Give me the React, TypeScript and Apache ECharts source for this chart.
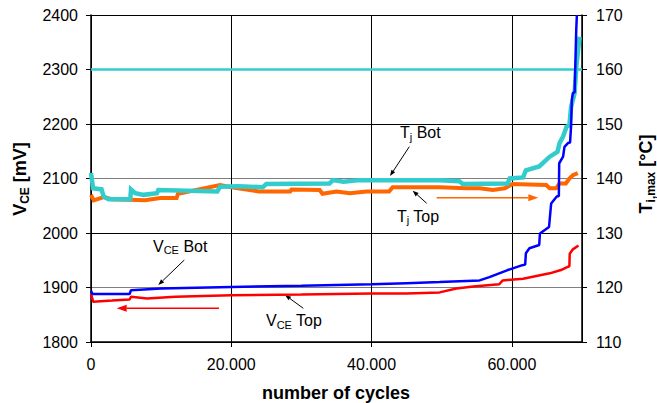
import React, { useEffect, useRef } from 'react';
import * as echarts from 'echarts';

// Collector-emitter voltage of the bottom switch [cycles, mV]
const vceBot: [number, number][] = [
  [0, 1894], [200, 1888], [5500, 1888], [5700, 1895], [10000, 1898], [20000, 1901],
  [30000, 1903], [40000, 1906], [45000, 1908], [49700, 1910], [55400, 1913],
  [56800, 1919], [59400, 1932], [61500, 1941], [61900, 1942], [62000, 1963],
  [62500, 1972], [63900, 1978], [64000, 1999], [65300, 2011], [65600, 2054],
  [66400, 2067], [66700, 2068], [66750, 2128], [67300, 2140], [67500, 2158],
  [68000, 2165], [68300, 2166], [68450, 2198], [68550, 2244], [68700, 2257],
  [68950, 2258], [69180, 2373], [69270, 2400],
];

// Collector-emitter voltage of the top switch [cycles, mV]
const vceTop: [number, number][] = [
  [0, 1889], [300, 1874], [3000, 1876], [5500, 1878], [5700, 1883], [8000, 1880],
  [12000, 1883], [20000, 1886], [30000, 1887], [40000, 1889], [45000, 1889],
  [49700, 1891], [52100, 1898], [54500, 1902], [58200, 1906], [58700, 1913],
  [61600, 1916], [65400, 1926], [67000, 1932], [67800, 1937], [68200, 1939],
  [68250, 1962], [68700, 1970], [69500, 1977],
];

// Maximum junction temperature, bottom switch [cycles, °C]
const tjBot: [number, number][] = [
  [0, 141], [300, 138.2], [1500, 138], [1800, 136.7], [2500, 136.2], [5600, 136.2],
  [5700, 138], [6300, 137.3], [7500, 137], [9400, 137.3], [9600, 137.9],
  [18000, 137.6], [18400, 138.5], [21000, 138.6], [24500, 138.4], [25000, 139],
  [34000, 139.1], [34500, 139.7], [36000, 139.4], [38300, 139.7], [49700, 139.7],
  [52500, 139.5], [53000, 139], [59400, 139.1], [59700, 140], [61600, 140.2],
  [62000, 141.5], [63900, 142.2], [65400, 144], [66500, 144.9], [66800, 146.5],
  [67300, 147.7], [67800, 149.5], [68200, 149.8], [68450, 153.2], [68700, 154.4],
  [68950, 155.7], [69200, 160.6], [69650, 166],
];

// Maximum junction temperature, top switch [cycles, °C]
const tjTop: [number, number][] = [
  [0, 137], [400, 136], [1800, 136.6], [3000, 136.2], [7700, 136], [9900, 136.4],
  [12200, 136.4], [12400, 137.2], [18400, 138.8], [20000, 138.4], [24000, 137.6],
  [28400, 137.6], [28600, 138], [32600, 137.9], [33000, 137.2], [35000, 137.6],
  [36900, 137.3], [39300, 137.6], [42500, 137.6], [43000, 138.4], [49700, 138.4],
  [53500, 138.2], [55400, 138.2], [57300, 137.9], [59000, 138.2], [60100, 139],
  [64900, 138.8], [65400, 138.2], [66300, 138.2], [66800, 139.1], [67700, 139.1],
  [68200, 140], [68700, 140.6], [69400, 141],
];

// Temperature limit line [°C]
const tjLimit = 160;
const cycleRange = [0, 70000];
const vceRange = [1800, 2400];
const tempRange = [110, 170];

const FONT = '"Liberation Sans", Arial, sans-serif';

let measureCtx: CanvasRenderingContext2D | null = null;
function measure(text: string, size: number, weight: string) {
  if (!measureCtx) measureCtx = document.createElement('canvas').getContext('2d');
  if (!measureCtx) return text.length * size * 0.55;
  measureCtx.font = `${weight} ${size}px ${FONT}`;
  return measureCtx.measureText(text).width;
}

type Part = { t: string; sub?: boolean };

// Text with subscripts, built from separate text pieces in a group
function subLabel(
  x: number, y: number, parts: Part[],
  o: { size: number; subSize: number; weight?: string; align?: 'left' | 'center'; rotation?: number; color?: string }
) {
  const weight = o.weight || 'normal';
  const widths = parts.map((p) => measure(p.t, p.sub ? o.subSize : o.size, weight));
  const total = widths.reduce((a, b) => a + b, 0);
  let cx = o.align === 'center' ? -total / 2 : 0;
  const subDy = 0.35 * o.size + 2.5 - 0.35 * o.subSize;
  const children = parts.map((p, i) => {
    const el = {
      type: 'text',
      x: cx,
      y: p.sub ? subDy : 0,
      style: {
        text: p.t,
        fontSize: p.sub ? o.subSize : o.size,
        fontFamily: FONT,
        fontWeight: weight,
        fill: o.color || '#000',
        align: 'left',
        textAlign: 'left',
        verticalAlign: 'middle',
        textVerticalAlign: 'middle',
      },
    };
    cx += widths[i];
    return el;
  });
  return { type: 'group', x, y, rotation: o.rotation || 0, silent: true, children };
}

function arrow(
  x1: number, y1: number, x2: number, y2: number,
  color: string, width: number, headLen: number, headW: number
) {
  const a = Math.atan2(y2 - y1, x2 - x1);
  const c = Math.cos(a), s = Math.sin(a);
  const bx = x2 - headLen * c, by = y2 - headLen * s;
  const px = -s * headW / 2, py = c * headW / 2;
  return [
    { type: 'line', silent: true, shape: { x1, y1, x2: bx, y2: by }, style: { stroke: color, lineWidth: width } },
    {
      type: 'polygon', silent: true,
      shape: { points: [[x2, y2], [bx + px, by + py], [bx - px, by - py]] },
      style: { fill: color },
    },
  ];
}

export default function App() {
  const ref = useRef<HTMLDivElement>(null);

  useEffect(() => {
    if (!ref.current) return;
    const chart = echarts.init(ref.current, undefined, { renderer: 'svg' });

    const tickLabel = { color: '#000', fontSize: 16, fontFamily: FONT };
    const axisLine = { show: true, lineStyle: { color: '#000', width: 1.5 } };
    const axisTick = { show: true, inside: false, length: 5, lineStyle: { color: '#000', width: 1 } };
    const plain = (v: number) => String(v);

    const annSize = { size: 16, subSize: 11 };

    const graphic: any[] = [
      subLabel(20, 179, [{ t: 'V' }, { t: 'CE', sub: true }, { t: ' [mV]' }],
        { size: 18, subSize: 12, weight: 'bold', align: 'center', rotation: Math.PI / 2 }),
      subLabel(646, 174, [{ t: 'T' }, { t: 'i,max', sub: true }, { t: ' [°C]' }],
        { size: 18, subSize: 12, weight: 'bold', align: 'center', rotation: Math.PI / 2 }),
      {
        type: 'text', silent: true, x: 336, y: 393,
        style: {
          text: 'number of cycles', fontSize: 18, fontWeight: 'bold', fontFamily: FONT, fill: '#000',
          align: 'center', textAlign: 'center', verticalAlign: 'middle', textVerticalAlign: 'middle',
        },
      },
      subLabel(400, 132.5, [{ t: 'T' }, { t: 'j', sub: true }, { t: ' Bot' }], annSize),
      subLabel(397, 216, [{ t: 'T' }, { t: 'j', sub: true }, { t: ' Top' }], annSize),
      subLabel(153, 246, [{ t: 'V' }, { t: 'CE', sub: true }, { t: ' Bot' }], annSize),
      subLabel(266, 320.5, [{ t: 'V' }, { t: 'CE', sub: true }, { t: ' Top' }], annSize),
      ...arrow(409.3, 146.7, 390, 176, '#000', 1, 6, 4.5),
      ...arrow(426.7, 203.3, 412.7, 190.7, '#000', 1, 6, 4.5),
      ...arrow(184.3, 260, 158.3, 285, '#000', 1, 6, 4.5),
      ...arrow(303.3, 308.3, 285, 295, '#000', 1, 6, 4.5),
      ...arrow(219, 308.3, 116.7, 308.3, '#FF0000', 1.5, 10, 7),
      ...arrow(436.7, 197.7, 538.3, 197.7, '#FF6600', 1.5, 10, 7),
    ];

    chart.setOption({
      animation: false,
      backgroundColor: '#fff',
      grid: { left: 91, right: 75, top: 15, bottom: 61, containLabel: false },
      xAxis: {
        type: 'value',
        min: cycleRange[0],
        max: cycleRange[1],
        interval: 20000,
        axisLine,
        axisTick,
        axisLabel: {
          ...tickLabel,
          margin: 14,
          showMaxLabel: false,
          formatter: (v: number) => (v === 0 ? '0' : `${Math.round(v / 1000)}.000`),
        },
        splitLine: { show: true, lineStyle: { color: '#000', width: 1 } },
      },
      yAxis: [
        {
          type: 'value',
          min: vceRange[0],
          max: vceRange[1],
          interval: 100,
          position: 'left',
          axisLine,
          axisTick,
          axisLabel: { ...tickLabel, margin: 13, formatter: plain },
          splitLine: { show: true, lineStyle: { color: ['#000', '#7f7f7f'], width: 1.2 } },
        },
        {
          type: 'value',
          min: tempRange[0],
          max: tempRange[1],
          interval: 10,
          position: 'right',
          axisLine,
          axisTick,
          axisLabel: { ...tickLabel, margin: 14, formatter: plain },
          splitLine: { show: false },
        },
      ],
      series: [
        {
          name: 'Tj Top', type: 'line', yAxisIndex: 1, data: tjTop, symbol: 'none',
          lineStyle: { color: '#FF6600', width: 4, cap: 'butt', join: 'miter' }, silent: true,
        },
        {
          name: 'Tj Bot', type: 'line', yAxisIndex: 1, data: tjBot, symbol: 'none',
          lineStyle: { color: '#33CCCC', width: 4.5, cap: 'butt', join: 'miter' }, silent: true,
        },
        {
          name: 'Tj limit', type: 'line', yAxisIndex: 1,
          data: [[cycleRange[0], tjLimit], [cycleRange[1], tjLimit]], symbol: 'none',
          lineStyle: { color: '#33CCCC', width: 2.5 }, silent: true,
        },
        {
          name: 'VCE Top', type: 'line', yAxisIndex: 0, data: vceTop, symbol: 'none',
          lineStyle: { color: '#FF0000', width: 2.5 }, silent: true,
        },
        {
          name: 'VCE Bot', type: 'line', yAxisIndex: 0, data: vceBot, symbol: 'none',
          lineStyle: { color: '#0000FF', width: 2.5 }, silent: true,
        },
      ],
      graphic,
    });

    return () => chart.dispose();
  }, []);

  return (
    <div
      ref={ref}
      style={{ position: 'fixed', left: 0, top: 0, width: 657, height: 403, background: '#fff' }}
    />
  );
}
